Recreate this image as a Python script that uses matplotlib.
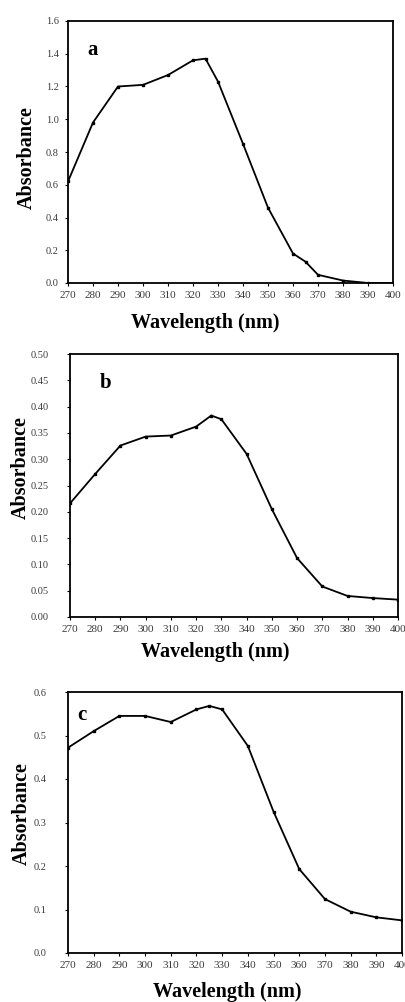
import numpy as np
import matplotlib.pyplot as plt

plt.rcParams['font.family'] = ['Liberation Serif', 'DejaVu Serif']

wl_a = [270, 280, 290, 300, 310, 320, 325, 330, 340, 350, 360, 365, 370, 380, 390, 400]
abs_a = [0.62, 0.98, 1.20, 1.21, 1.27, 1.36, 1.37, 1.23, 0.85, 0.46, 0.18, 0.13, 0.05, 0.015, 0.0, 0.0]

wl_b = [270, 280, 290, 300, 310, 320, 326, 330, 340, 350, 360, 370, 380, 390, 400]
abs_b = [0.216, 0.272, 0.326, 0.343, 0.345, 0.362, 0.383, 0.376, 0.31, 0.205, 0.112, 0.058, 0.04, 0.036, 0.033]

wl_c = [270, 280, 290, 300, 310, 320, 325, 330, 340, 350, 360, 370, 380, 390, 400]
abs_c = [0.472, 0.51, 0.545, 0.545, 0.531, 0.56, 0.568, 0.56, 0.476, 0.325, 0.193, 0.124, 0.095, 0.082, 0.075]

xticks = list(range(270, 401, 10))

W, H = 406, 1002
fig = plt.figure(figsize=(W / 100, H / 100), dpi=100)


def add_panel(box, wl, ab, ymax, ystep, yfmt, letter, letter_pos, ypad, ylab_xy, xlab_xy):
    l, t, r, b = box
    ax = fig.add_axes([l / W, 1 - b / H, (r - l) / W, (b - t) / H])
    ax.plot(wl, ab, color='black', lw=1.3, marker='s', ms=1.5)
    ax.set_xlim(270, 400)
    ax.set_ylim(0, ymax)
    ax.set_xticks(xticks)
    ax.set_yticks(np.arange(0, ymax + ystep / 2, ystep))
    ax.yaxis.set_major_formatter(plt.FormatStrFormatter(yfmt))
    ax.tick_params(axis='x', labelsize=8, length=2.5, width=0.8, pad=3, labelcolor='#3a3a3a')
    ax.tick_params(axis='y', labelsize=7.5, length=2.5, width=0.8, pad=ypad, labelcolor='#3a3a3a')
    for s in ax.spines.values():
        s.set_linewidth(1.3)
    fig.text(ylab_xy[0] / W, 1 - ylab_xy[1] / H, 'Absorbance', rotation=90,
             ha='center', va='center', fontsize=14.5, fontweight='bold')
    fig.text(xlab_xy[0] / W, 1 - xlab_xy[1] / H, 'Wavelength (nm)', ha='center',
             va='center', fontsize=14.5, fontweight='bold')
    ax.text(letter_pos[0], letter_pos[1], letter, transform=ax.transAxes, fontsize=15,
            fontweight='bold', va='center')
    return ax


add_panel((68, 21, 393, 283), wl_a, abs_a, 1.6, 0.2, '%.1f', 'a', (0.06, 0.89), 4,
          (27, 158), (205, 323))
add_panel((70, 354, 398, 617), wl_b, abs_b, 0.5, 0.05, '%.2f', 'b', (0.09, 0.89), 13,
          (21, 468), (215, 652))
add_panel((68, 692, 402, 953), wl_c, abs_c, 0.6, 0.1, '%.1f', 'c', (0.027, 0.91), 13,
          (22, 814), (227, 992))

fig.savefig('out.png', dpi=100)
